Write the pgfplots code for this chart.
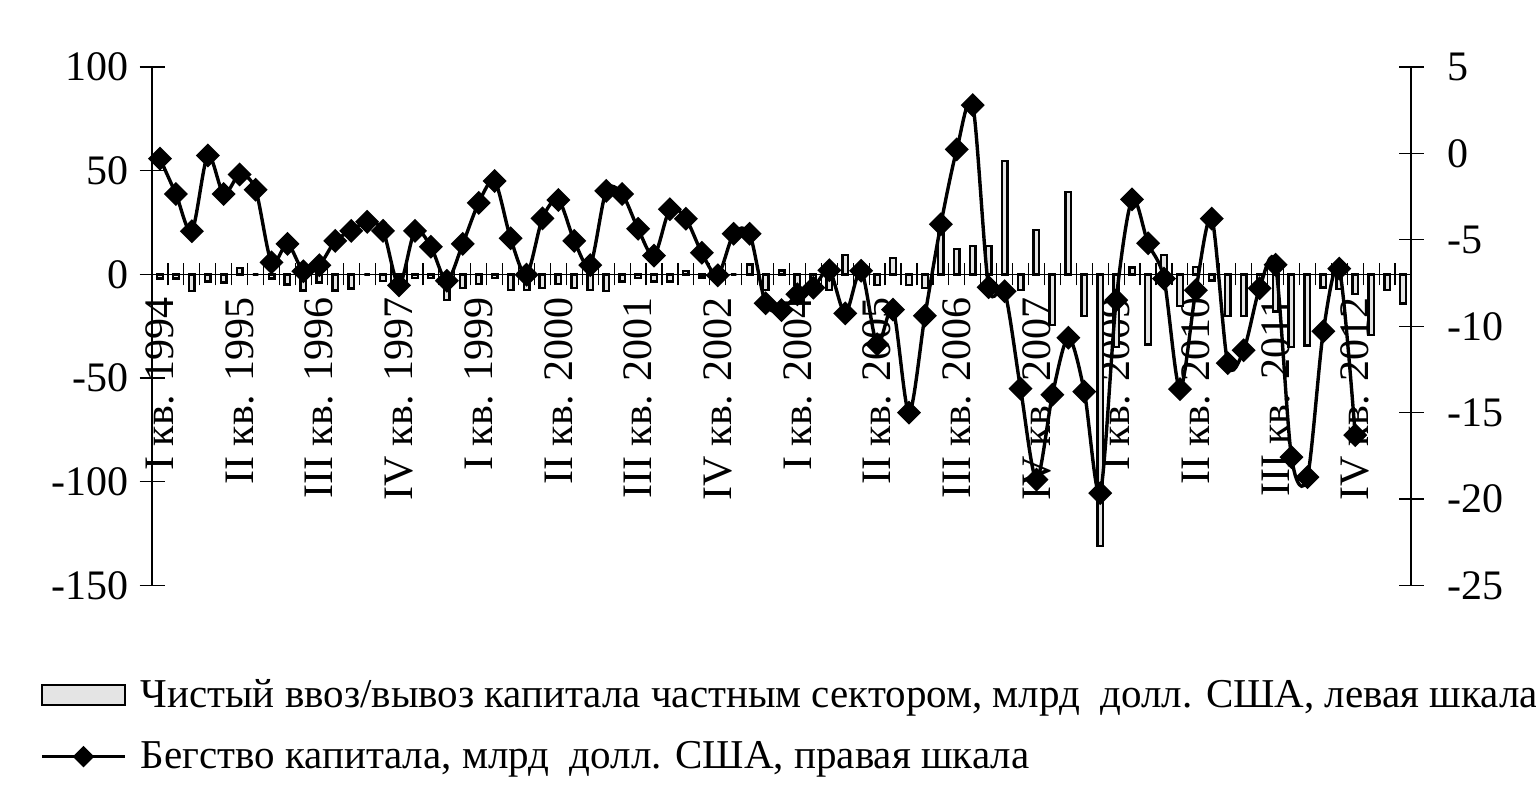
\documentclass[border=0pt]{standalone}
\usepackage{fontspec}
\setmainfont{Liberation Serif}
\usepackage{pgfplots}
\pgfplotsset{compat=1.18}
\usepackage{pgfplotstable}
\definecolor{barfill}{RGB}{228,228,228}
\newcommand{\tickfont}{\fontsize{21}{25}\selectfont}
\newcommand{\legfont}{\fontsize{20.5}{24}\selectfont}

% net private capital flow, bn USD (left scale), I 1994 .. III 2013
\pgfplotstableread{
q v
0 -2
1 -2
2 -8
3 -3.5
4 -4
5 3
6 0
7 -2
8 -4.8
9 -7.8
10 -4
11 -7.8
12 -6.8
13 0
14 -3.2
15 -1.5
16 -1.8
17 -1.8
18 -12.4
19 -6.7
20 -4.6
21 -1.8
22 -7.5
23 -7.5
24 -6.7
25 -4.6
26 -6.7
27 -7.5
28 -8
29 -3.5
30 -1.8
31 -3.5
32 -3.5
33 1.7
34 -1.5
35 -1
36 0
37 4.8
38 -7.6
39 1.8
40 -5
41 -5
42 -7.5
43 9.3
44 -1
45 -5
46 8
47 -5
48 -6.7
49 21
50 12.2
51 13.8
52 13.8
53 54.8
54 -7.5
55 21.4
56 -24.5
57 39.6
58 -20.1
59 -131
60 -35
61 3.4
62 -33.8
63 9.3
64 -15.2
65 3.5
66 -3
67 -20
68 -20
69 -9
70 -17.8
71 -35
72 -34.3
73 -6.3
74 -7
75 -9.5
76 -29.3
77 -7.5
78 -14
}\netflow

% capital flight, bn USD (right scale), I 1994 .. IV 2012
\pgfplotstableread{
q v
0 -0.3
1 -2.35
2 -4.5
3 -0.12
4 -2.35
5 -1.22
6 -2.1
7 -6.3
8 -5.23
9 -6.82
10 -6.47
11 -5.06
12 -4.48
13 -3.96
14 -4.48
15 -7.63
16 -4.48
17 -5.4
18 -7.37
19 -5.23
20 -2.86
21 -1.6
22 -4.91
23 -7.02
24 -3.76
25 -2.69
26 -5.06
27 -6.47
28 -2.17
29 -2.35
30 -4.36
31 -5.92
32 -3.23
33 -3.78
34 -5.75
35 -7.05
36 -4.65
37 -4.65
38 -8.67
39 -9.07
40 -8.15
41 -7.77
42 -6.76
43 -9.25
44 -6.79
45 -11.04
46 -9.04
47 -15
48 -9.39
49 -4.1
50 0.23
51 2.8
52 -7.74
53 -7.97
54 -13.61
55 -18.87
56 -13.96
57 -10.66
58 -13.78
59 -19.65
60 -8.49
61 -2.66
62 -5.2
63 -7.25
64 -13.64
65 -7.92
66 -3.77
67 -12.14
68 -11.39
69 -7.8
70 -6.44
71 -17.57
72 -18.73
73 -10.29
74 -6.67
75 -16.3
}\flight

\begin{document}
\begin{tikzpicture}
\useasboundingbox (0,0) rectangle (768pt,401pt);
\pgfplotsset{
  twin/.style={
    at={(76pt,108.25pt)}, anchor=south west,
    scale only axis, width=629.5pt, height=259.25pt,
    xmin=-0.5, xmax=78.5,
    axis line style={line width=0.75pt, -},
    tick style={black, line width=0.6pt},
    tick align=center, major tick length=12.5pt,
    ticklabel style={font=\tickfont},
  },
}
\begin{axis}[
    twin,
    ymin=-150, ymax=100,
    axis y line*=left, axis x line*=middle,
    ytick={-150,-100,...,100},
    yticklabels={-150,-100,-50,0,50,100},
    yticklabel style={anchor=east, inner sep=0pt, xshift=-5.5pt},
    xtick={0,5,...,75},
    xticklabels={I кв. 1994, II кв. 1995, III кв. 1996, IV кв. 1997,
      I кв. 1999, II кв. 2000, III кв. 2001, IV кв. 2002,
      I кв. 2004, II кв. 2005, III кв. 2006, IV кв. 2007,
      I кв. 2009, II кв. 2010, III кв. 2011, IV кв. 2012},
    major x tick style={draw=none},
    minor xtick={-0.5,0.5,...,78.5},
    minor tick length=11pt,
    xticklabel style={rotate=90, anchor=east, inner sep=0pt},
    xticklabel shift=5pt,
  ]
  \addplot[ybar, bar width=2.8pt, draw=black, line width=1.2pt, fill=barfill]
    table[x=q, y=v] {\netflow};
\end{axis}
\begin{axis}[
    twin,
    ymin=-25, ymax=5,
    axis y line*=right, axis x line=none,
    ytick={-25,-20,...,5},
    yticklabels={-25,-20,-15,-10,-5,0,5},
    yticklabel style={anchor=west, inner sep=0pt, xshift=12pt},
    legend style={at={(axis description cs:-0.0938,-0.165)}, anchor=north west,
      draw=none, fill=none, font=\legfont, row sep=11.5pt,
      cells={anchor=west},
      /tikz/every odd column/.append style={column sep=5pt}},
  ]
  \addlegendimage{legend image code/.code={
      \draw[line width=1.2pt, fill=barfill] (0pt,-5pt) rectangle (41.5pt,5pt);}}
  \addlegendentry{Чистый ввоз/вывоз капитала частным сектором, млрд\ \ долл. США, левая шкала}
  \addplot[smooth, black, line width=1.7pt, mark=diamond*, mark size=4.8pt,
      mark options={xscale=1.333},
      legend image code/.code={
        \draw[black, line width=1.7pt, mark=diamond*, mark size=4.2pt,
          mark options={xscale=1.333}, mark repeat=2, mark phase=2]
          plot coordinates {(0pt,0pt) (20.75pt,0pt) (41.5pt,0pt)};}]
    table[x=q, y=v] {\flight};
  \addlegendentry{Бегство капитала, млрд\ \ долл. США, правая шкала}
\end{axis}
\end{tikzpicture}
\end{document}
